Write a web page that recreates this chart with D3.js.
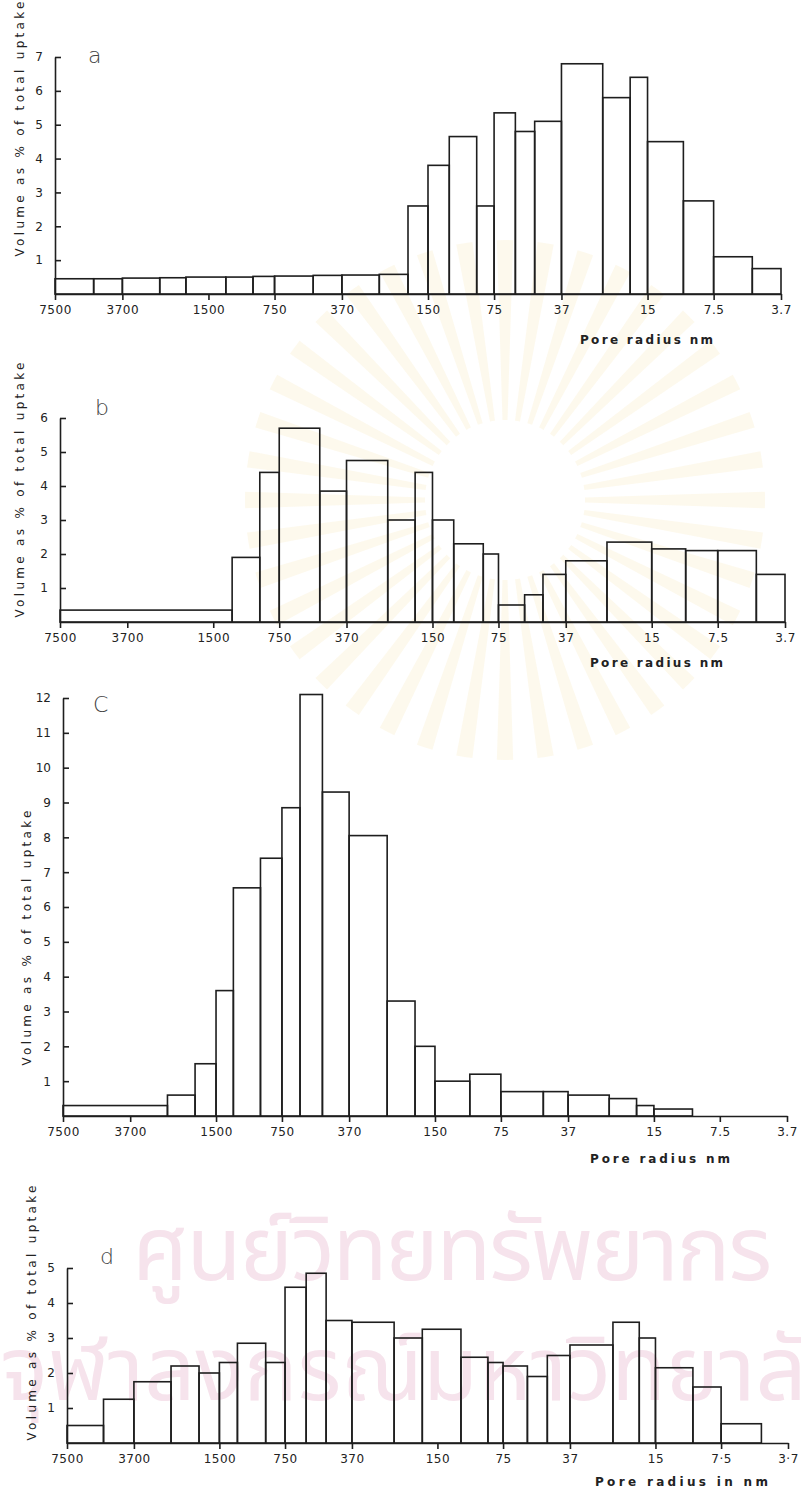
<!DOCTYPE html>
<html>
<head>
<meta charset="utf-8">
<script src="https://cdn.jsdelivr.net/npm/d3@7"></script>
<style>
  body { margin: 0; background: #fff; }
  svg text { font-family: "DejaVu Sans", sans-serif; fill: #222; }
</style>
</head>
<body>
<svg id="chart" width="801" height="1500"></svg>
<script>
// pore radius tick marks (nm), shared by all four panels
const xTicks = [7500, 3700, 1500, 750, 370, 150, 75, 37, 15, 7.5, 3.7];
const xTickLabels = ["7500", "3700", "1500", "750", "370", "150", "75", "37", "15", "7.5", "3.7"];
const xTickLabelsD = ["7500", "3700", "1500", "750", "370", "150", "75", "37", "15", "7·5", "3·7"];

// bin edges (nm) and volume as % of total uptake
const edgesA = [7500, 5000, 3700, 2500, 1900, 1250, 940, 750, 500, 370, 250, 185,
    150, 120, 90, 75, 60, 49, 37, 24, 18, 15, 10.3, 7.5, 5, 3.7];
const valuesA = [0.45, 0.45, 0.47, 0.48, 0.5, 0.5, 0.52, 0.53, 0.55, 0.56, 0.58,
    2.6, 3.8, 4.65, 2.6, 5.35, 4.8, 5.1, 6.8, 5.8, 6.4, 4.5, 2.75, 1.1, 0.75];

const edgesB = [7500, 1230, 920, 750, 490, 370, 240, 180, 150, 120, 88, 75, 57, 47,
    37, 24, 15, 10.5, 7.5, 5, 3.7];
const valuesB = [0.35, 1.9, 4.4, 5.7, 3.85, 4.75, 3.0, 4.4, 3.0, 2.3, 2.0, 0.5, 0.8,
    1.4, 1.8, 2.35, 2.15, 2.1, 2.1, 1.4];

const edgesC = [7500, 2500, 1870, 1500, 1250, 940, 750, 620, 490, 370, 248, 185, 150,
    104, 75, 48, 37, 24, 18, 15, 10];
const valuesC = [0.3, 0.6, 1.5, 3.6, 6.55, 7.4, 8.85, 12.1, 9.3, 8.05, 3.3, 2.0, 1.0,
    1.2, 0.7, 0.7, 0.6, 0.5, 0.3, 0.2];

const edgesD = [7500, 5100, 3700, 2500, 1860, 1500, 1240, 920, 750, 600, 486, 370, 237,
    176, 117, 88, 75, 58, 47, 37, 23.5, 17.8, 15, 10.1, 7.5, 4.9];
const valuesD = [0.5, 1.25, 1.75, 2.2, 2.0, 2.3, 2.85, 2.3, 4.45, 4.85, 3.5, 3.45, 3.0,
    3.25, 2.45, 2.3, 2.2, 1.9, 2.5, 2.8, 3.45, 3.0, 2.15, 1.6, 0.55];

const svg = d3.select("#chart");

// faint library watermark behind the charts (scan background)
let wm = svg.append("g").attr("class", "watermark");

let rayAngles = d3.range(0, 360, 9);
let ray = d3.arc().innerRadius(80).outerRadius(260);
wm.selectAll("path.ray")
    .data(rayAngles)
    .enter().append("path")
    .attr("class", "ray")
    .attr("transform", "translate(505,500)")
    .attr("d", a => ray({startAngle: (a - 1.8) * Math.PI / 180, endAngle: (a + 1.8) * Math.PI / 180}))
    .style("fill", "#f3dc9a")
    .style("opacity", 0.18);

wm.append("text")
    .attr("x", 130).attr("y", 1280)
    .attr("textLength", 640)
    .style("font-family", "'Noto Sans Thai', 'Noto Sans', sans-serif")
    .style("font-size", "90px")
    .style("fill", "#f6e3ec")
    .text("ศูนย์วิทยทรัพยากร");
wm.append("text")
    .attr("x", 0).attr("y", 1400)
    .attr("textLength", 860)
    .style("font-family", "'Noto Sans Thai', 'Noto Sans', sans-serif")
    .style("font-size", "90px")
    .style("fill", "#f6e3ec")
    .text("จุฬาลงกรณ์มหาวิทยาลัย");

const panels = [
    {name: "a", edges: edgesA, values: valuesA, labels: xTickLabels, yMax: 7,
        x0: 55, x1: 781, base: 294, top: 57, tag: [88, 63],
        yTitle: [20, 129], xTitle: "Pore radius nm", xTitlePos: [580, 344, 133]},
    {name: "b", edges: edgesB, values: valuesB, labels: xTickLabels, yMax: 6,
        x0: 60, x1: 785, base: 622, top: 418, tag: [95, 415],
        yTitle: [20, 490], xTitle: "Pore radius nm", xTitlePos: [590, 667, 133]},
    {name: "C", edges: edgesC, values: valuesC, labels: xTickLabels, yMax: 12,
        x0: 63, x1: 787, base: 1116, top: 698, tag: [93, 712],
        yTitle: [27, 938], xTitle: "Pore radius nm", xTitlePos: [590, 1163, 140]},
    {name: "d", edges: edgesD, values: valuesD, labels: xTickLabelsD, yMax: 5,
        x0: 67, x1: 788, base: 1443, top: 1268, tag: [100, 1264],
        yTitle: [32, 1313], xTitle: "Pore radius in nm", xTitlePos: [595, 1486, 173]}
];

panels.forEach(drawPanel);

function drawPanel(p) {
    let g = svg.append("g");

    let x = d3.scaleLog()
        .domain([7500, 3.7])
        .range([p.x0, p.x1]);
    let y = d3.scaleLinear()
        .domain([0, p.yMax])
        .range([p.base, p.top]);

    let bins = p.values.map(function (v, i) {
        return {from: p.edges[i], to: p.edges[i + 1], value: v};
    });

    g.selectAll("rect")
        .data(bins)
        .enter().append("rect")
        .attr("x", d => x(d.from))
        .attr("y", d => y(d.value))
        .attr("width", d => x(d.to) - x(d.from))
        .attr("height", d => y(0) - y(d.value))
        .style("fill", "none")
        .style("stroke", "#1e1e1e")
        .style("stroke-width", 1.6);

    let xAxis = d3.axisBottom(x)
        .tickValues(xTicks)
        .tickFormat((d, i) => p.labels[i])
        .tickSize(6)
        .tickSizeOuter(0)
        .tickPadding(5);

    let xg = g.append("g")
        .attr("transform", "translate(0," + p.base + ")")
        .call(xAxis);
    xg.selectAll("text").style("font-size", "12px").style("letter-spacing", "0.5px");

    let yAxis = d3.axisLeft(y)
        .tickValues(d3.range(1, p.yMax + 1))
        .tickFormat(d3.format("d"))
        .tickSizeInner(-6)
        .tickSizeOuter(0)
        .tickPadding(12);

    let yg = g.append("g")
        .attr("transform", "translate(" + p.x0 + ",0)")
        .call(yAxis);
    yg.selectAll("text").style("font-size", "12px");

    g.selectAll(".domain, .tick line")
        .style("stroke", "#1e1e1e")
        .style("stroke-width", 1.6);

    // panel letter
    g.append("text")
        .attr("x", p.tag[0]).attr("y", p.tag[1])
        .style("font-size", "22px")
        .style("font-weight", "200")
        .style("fill", "#444")
        .text(p.name);

    // axis titles
    g.append("text")
        .attr("transform", "translate(" + p.yTitle[0] + "," + p.yTitle[1] + ") rotate(-90)")
        .attr("text-anchor", "middle")
        .attr("dy", "0.35em")
        .attr("textLength", 255)
        .attr("lengthAdjust", "spacing")
        .style("font-size", "12px")
        .text("Volume as % of total uptake");

    g.append("text")
        .attr("x", p.xTitlePos[0]).attr("y", p.xTitlePos[1])
        .attr("textLength", p.xTitlePos[2])
        .attr("lengthAdjust", "spacing")
        .style("font-size", "12px")
        .style("font-weight", "bold")
        .text(p.xTitle);
}
</script>
</body>
</html>
